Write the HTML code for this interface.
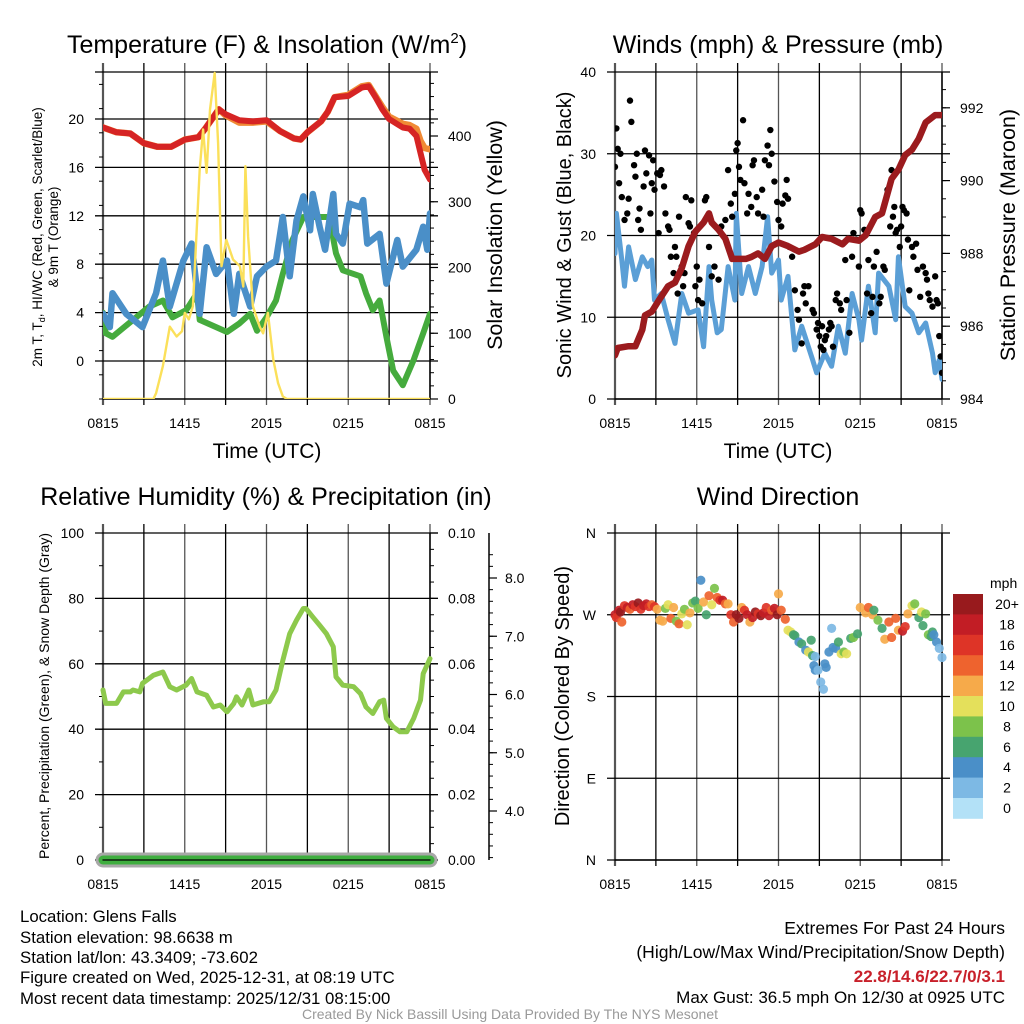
<!DOCTYPE html>
<html><head><meta charset="utf-8"><title>Glens Falls Meteogram</title>
<style>
html,body{margin:0;padding:0;background:#fff;}
svg{display:block;font-family:"Liberation Sans",Arial,sans-serif;}
</style></head>
<body>
<svg id="chart" width="1024" height="1024" viewBox="0 0 1024 1024" xmlns="http://www.w3.org/2000/svg">
<defs>
<clipPath id="clipTL"><rect x="103" y="71" width="327" height="328"/></clipPath>
<clipPath id="clipTR"><rect x="615" y="71" width="327" height="328"/></clipPath>
<clipPath id="clipBL"><rect x="90" y="533" width="355" height="340"/></clipPath>
<clipPath id="clipBR"><rect x="605" y="533" width="347" height="327"/></clipPath>
</defs>
<g id="root"></g>
</svg>
<script>
// ---------- DATA ----------
const timeTicks = ["0815","1415","2015","0215","0815"];
// Temperature panel
const tempHours = [0,1,2,3,4,5,6,7,7.5,8,8.5,9,10,11,12,13,14,14.5,15,16,16.5,17,18,19,19.5,20,20.5,21,22,22.5,23,23.3,23.6,24];
const temp2m   = [19.3,18.9,18.8,18.0,17.7,17.7,18.3,18.5,19.2,20.0,20.8,20.4,19.9,19.8,19.9,19.0,18.4,18.3,18.9,19.8,20.6,21.8,21.9,22.6,22.7,21.8,20.8,20.0,19.3,19.2,18.6,17.2,15.8,15.0];
const temp9m   = [19.3,18.9,18.8,18.0,17.7,17.7,18.3,18.5,19.2,20.0,20.8,20.3,19.7,19.7,19.8,19.0,18.4,18.3,18.9,19.8,20.6,21.8,22.0,22.7,22.8,21.9,21.0,20.2,19.6,19.5,19.2,18.2,17.6,17.5];
const wcHours = [0,0.5,0.7,1.7,2.9,3.9,4.4,4.9,5.9,6.5,7.1,7.6,8.3,9.1,9.6,10.0,10.8,11.3,12.0,12.7,13.2,13.7,14.2,14.7,15.2,15.4,15.9,16.3,16.9,17.1,17.6,18.1,18.9,19.1,19.4,20.3,20.8,21.6,22.0,23.0,23.5,23.8,24];
const windChill = [3.9,2.8,5.6,3.9,2.8,5.6,8.3,4.5,8.3,9.7,3.9,9.4,7.2,8.3,3.9,7.2,4.5,7.0,7.8,8.3,11.9,7.0,11.6,13.6,10.8,13.8,11.1,9.2,13.8,10.5,9.7,13.0,12.7,13.3,9.7,10.5,6.4,10.0,7.8,9.2,11.1,9.2,12.2];
const dewHours = [0,0.2,0.7,2.2,3.4,4.4,5.1,6.1,6.9,7.1,8.3,9.1,10.0,10.8,11.3,12.0,12.7,13.2,13.9,14.7,15.9,16.6,17.1,17.6,18.9,19.3,19.8,20.3,20.8,21.3,22.0,22.8,23.5,24];
const dewPoint = [4.0,2.3,2.0,3.4,4.5,5.0,3.6,4.2,5.6,3.4,2.8,2.4,3.1,3.9,2.5,3.6,5.0,7.2,10.0,11.9,11.9,11.9,8.9,7.5,7.0,5.6,4.2,5.0,2.0,-0.8,-2.0,0.1,2.3,3.9];
const solHours = [0,3.7,3.9,4.4,4.9,5.4,5.8,6.0,6.3,6.6,7.1,7.35,7.6,7.85,8.2,8.45,8.7,9.05,9.55,10.05,10.3,10.45,10.65,11.0,11.5,11.75,12.1,12.5,12.85,13.2,13.5,24];
const solar    = [0,0,9,50,110,95,103,131,121,141,349,410,344,440,496,389,202,242,212,202,171,354,247,141,110,100,131,60,24,4,0,0];
const tempTicks = [0,4,8,12,16,20];
const solarTicks = [0,100,200,300,400];
// Wind panel
const presHours = [0,0.2,1.0,1.5,2.0,2.2,2.7,3.2,3.9,4.4,4.9,5.4,5.9,6.5,6.9,7.1,7.6,8.1,8.6,9.1,9.6,10.0,10.5,11.0,11.5,12.0,12.7,13.5,13.9,14.7,15.2,15.9,16.7,17.1,17.9,18.4,19.1,19.6,20.3,20.8,21.3,21.8,22.3,22.8,23.5,24];
const pressure  = [985.2,985.4,985.45,985.45,985.9,986.3,986.4,986.7,987.1,987.2,987.6,988.2,988.6,988.85,989.1,988.85,988.65,988.4,987.85,987.85,987.85,987.9,988.0,987.85,988.2,988.3,988.2,988.05,988.1,988.25,988.45,988.4,988.25,988.4,988.35,988.5,989.0,989.1,990.05,990.3,990.7,990.85,991.15,991.6,991.8,991.8];
const windHours = [0,0.1,0.5,0.7,1.0,1.5,2.0,2.4,2.7,2.9,3.4,3.9,4.4,4.9,5.4,6.1,6.5,6.9,7.1,7.5,7.8,8.3,8.8,8.9,9.3,9.8,10.3,10.8,11.2,11.5,12.0,12.2,12.7,13.2,13.7,14.5,14.8,15.4,15.9,16.4,16.9,17.4,17.9,18.1,18.6,19.1,19.35,20.1,20.6,20.8,21.3,21.8,22.3,22.8,23.3,23.5,23.8,24];
const windSpeed = [17.8,22.7,17,13.8,18.6,14.6,17.4,16.2,17,12.1,12.9,9.7,6.8,12.9,10.5,10.9,6.4,16.2,12.1,8.1,8.5,16.2,12.1,22.7,12.9,16.2,12.9,16.2,22.3,15.4,17,12.1,15,6.0,8.9,4.8,3.2,5.6,4.0,8.9,5.6,12.9,9.7,7.2,13.8,8.1,15.4,13.8,9.7,17.4,11.3,10.5,8.1,9.3,5.6,3.2,4.8,2.4];
const gustHours = [0,0.1,0.2,0.3,0.4,0.5,0.7,0.9,1.0,1.1,1.2,1.4,1.5,1.6,1.7,1.8,1.9,2.1,2.2,2.3,2.5,2.6,2.7,2.8,2.9,3.1,3.2,3.3,3.4,3.6,3.7,3.9,4.0,4.1,4.3,4.4,4.5,4.6,4.7,4.8,4.9,5.0,5.1,5.2,5.4,5.5,5.6,5.8,5.9,6.0,6.1,6.2,6.4,6.6,6.7,6.9,7.1,7.3,7.6,7.8,8.1,8.3,8.5,8.6,8.8,8.9,9.0,9.1,9.2,9.4,9.5,9.7,9.8,10.0,10.1,10.2,10.4,10.5,10.8,10.9,11.0,11.2,11.3,11.4,11.5,11.7,11.9,12.0,12.2,12.3,12.5,12.6,12.7,12.8,13.0,13.2,13.4,13.5,13.7,13.8,13.9,14.0,14.2,14.5,14.6,14.8,14.9,15.0,15.1,15.2,15.3,15.4,15.5,15.7,15.8,15.9,16.0,16.2,16.3,16.5,16.6,16.9,17.0,17.2,17.4,17.5,17.7,17.9,18.0,18.1,18.3,18.5,18.6,18.8,18.9,19.0,19.2,19.4,19.5,19.7,19.8,20.0,20.2,20.3,20.4,20.5,20.6,20.7,20.9,21.0,21.1,21.2,21.4,21.5,21.6,21.8,21.9,22.1,22.2,22.4,22.6,22.8,22.9,23.0,23.1,23.3,23.5,23.6,23.7,23.8,23.9,24.0];
const gustSpeed = [28.4,33.1,30.6,26.4,30,24.7,21.9,22.7,24.5,36.5,33.9,28.6,27.2,30,21.9,23.3,20.7,26,30.4,27.6,29.8,22.7,26.4,29.2,25.6,27.6,20.3,27.4,28.0,26,22.7,21.1,20.7,17.4,15.4,18.6,17.4,12.9,22.3,15.4,16.2,13.8,15.4,24.7,21.5,21.1,24.3,20.3,13.8,16.2,12.1,14.6,11.7,24.3,24.7,18.6,15.0,16.2,14.6,21.1,21.9,28.0,23.9,22.3,25.1,30.4,31.3,28.4,26.8,34.1,26.4,22.7,25.1,23.5,28.6,29.2,24.7,22.7,25.6,22.3,29.2,31.0,28.6,32.9,30.0,26.6,24.1,21.9,21.1,23.9,24.9,26.8,24.5,18.6,17.4,13.3,10.9,9.7,6.8,12.9,13.8,11.7,13.8,10.9,10.5,8.5,9.3,7.7,6.4,8.9,6.0,7.2,7.7,8.5,9.3,8.9,6.4,12.1,12.9,11.7,10.9,17.0,12.1,8.1,17.4,20.3,19.5,16.2,23.1,22.7,20.7,12.9,17.0,10.5,12.5,16.2,18.0,11.7,12.5,16.2,15.8,25.6,21.1,28.0,22.3,23.5,20.3,20.7,18.6,21.1,23.5,23.1,22.7,19.5,13.3,18.6,17.4,19.0,15.8,12.5,16.2,15.4,14.6,12.9,12.1,11.3,15.0,12.1,11.7,7.7,5.2,3.2];
const windTicks = [0,10,20,30,40];
const presTicks = [984,986,988,990,992];
// RH panel
const rhHours = [0,0.2,0.5,1.0,1.5,2.0,2.2,2.7,2.9,3.7,4.4,4.9,5.4,6.1,6.5,6.9,7.6,8.1,8.6,9.1,9.6,9.8,10.2,10.7,11.0,11.8,12.2,12.7,13.2,13.7,14.2,14.7,14.9,15.4,15.9,16.4,16.9,17.1,17.6,18.4,18.9,19.3,19.8,20.3,20.6,20.8,21.3,21.8,22.3,22.8,23.3,23.5,24];
const relHum  = [52,47.9,47.9,47.9,51.4,51.4,52,51.4,54,56.5,57.5,53,52,53.5,55.5,51.4,50.4,46.8,47.4,45.3,47.9,49.9,47.4,52,47.4,48.4,48.4,52,61,69.2,73.3,76.9,76.9,74.3,71.8,69.2,65.2,56,53.5,53,50.9,46.8,44.8,48.4,48.9,43.3,40.7,39.2,39.2,43.3,48.9,57,61.6];
const rhTicks = [0,20,40,60,80,100];
const precipTicks = ["0.00","0.02","0.04","0.06","0.08","0.10"];
const snowTicks = [4,5,6,7,8];
// Wind direction panel
const dirHours = [0,0.1,0.3,0.4,0.5,0.7,0.9,1.1,1.3,1.5,1.7,1.9,2.1,2.3,2.5,2.7,2.9,3.1,3.3,3.5,3.7,3.9,4.1,4.3,4.5,4.7,4.9,5.1,5.3,5.5,5.7,5.9,6.1,6.3,6.5,6.7,6.9,7.1,7.3,7.5,7.7,7.9,8.1,8.3,8.5,8.7,8.9,9.1,9.3,9.5,9.7,9.9,10.1,10.3,10.5,10.7,10.9,11.1,11.3,11.5,11.7,11.9,12.0,12.2,12.5,12.7,12.9,13.1,13.2,13.5,13.7,14.0,14.2,14.4,14.5,14.7,14.6,14.7,14.9,15.1,15.3,15.4,15.5,15.7,15.9,16.0,16.2,16.4,16.6,16.8,17.0,17.3,17.5,17.8,18.0,18.4,18.6,18.9,19.0,19.3,19.6,19.8,20.1,20.3,20.6,20.8,21.1,21.3,21.5,21.8,22.0,22.3,22.5,22.6,22.8,23.0,23.2,23.3,23.4,23.6,23.8,24];
const dirDeg = [270,267,275,273,262,280,278,276,281,279,283,276,280,282,279,281,279,276,264,263,277,281,266,278,263,260,271,276,259,272,283,285,277,308,284,270,291,281,299,289,286,286,282,282,270,262,270,266,278,275,270,262,267,273,271,269,272,278,269,275,277,270,293,275,265,253,251,248,247,240,238,231,229,242,225,224,214,209,209,196,188,216,212,229,255,234,233,240,227,229,227,244,245,249,278,272,278,270,275,264,255,243,262,245,266,253,252,257,271,280,282,267,273,258,271,248,246,251,248,240,233,223,216,209];
const dirSpeed = [19,17,18,20,14,16,19,15,18,17,20,16,19,18,17,14,16,12,13,13,8,10,14,12,9,14,11,8,10,13,8,7,9,5,12,6,15,10,8,15,16,18,14,12,16,15,20,21,13,16,19,12,18,21,17,20,19,16,18,15,19,20,13,14,15,10,11,6,7,4,7,5,10,7,6,3,4,4,3,3,3,4,4,5,2,4,5,6,10,9,10,7,8,7,12,13,14,12,7,9,6,13,14,15,14,13,19,17,12,10,8,7,10,7,9,8,6,7,4,4,3,2,2];
const legendLabels = ["20+","18","16","14","12","10","8","6","4","2","0"];

// ---------- HELPERS ----------
const NS = "http://www.w3.org/2000/svg";
const root = document.getElementById("root");
function mk(tag, attrs, parent){
  const e = document.createElementNS(NS, tag);
  for (const k in attrs) e.setAttribute(k, attrs[k]);
  (parent || root).appendChild(e);
  return e;
}
function txt(str, attrs, parent){ const e = mk("text", attrs, parent); e.textContent = str; return e; }
const PW = 327;
function xScale(x0){ return h => x0 + h / 24 * PW; }
function pathFrom(xs, ys){ return xs.map((x,i)=>(i?"L":"M")+x.toFixed(1)+","+ys[i].toFixed(1)).join(""); }
function speedColor(s){
  const c = ["#b3e1f7","#7db9e4","#4a8fc8","#47a46f","#7cc24b","#e4e05b","#f6aa4a","#ee632e","#de3427","#c21d25","#981a1d"];
  let i = Math.floor(s/2); if (i > 10) i = 10; if (i < 0) i = 0;
  return c[i];
}

function grid(x0, yTop, yBot, hLines, name){
  const g = mk("g", {});
  
  
  for (let k = 0; k <= 8; k++){
    const x = x0 + k * PW / 8;
    const l = mk("line", {x1:x, x2:x, y1:yTop-9, y2:yBot+6, stroke: (k%2? "#000":"#555"), "stroke-width": (k===0? 2.2 : 1.3)}, g);
    
    
  }
  hLines.forEach(y => {
    const l = mk("line", {x1:x0-8, x2:x0+PW+8, y1:y, y2:y, stroke:"#000", "stroke-width":1.3}, g);
    
    
  });
  const b = mk("line", {x1:x0, x2:x0+PW, y1:yBot, y2:yBot, stroke:"#000", "stroke-width":1.5}, g);
  
  
  const r = mk("line", {x1:x0+PW, x2:x0+PW, y1:yTop, y2:yBot, stroke:"#000", "stroke-width":1.5}, g);
  
  
  timeTicks.forEach((t,i) => {
    const tl = txt(t, {x: x0 + i*PW/4, y: yBot + 29, "font-size":14, "text-anchor":"middle"}, g);
    
    
  });
}
function minorTicks(x, yTop, yBot, step, dir, name){
  for (let y = yBot; y >= yTop - 0.5; y -= step){
    const l = mk("line", {x1:x, x2:x + dir*4, y1:y, y2:y, stroke:"#000", "stroke-width":1});
    
    
  }
}

// ---------- TOP LEFT: TEMPERATURE ----------
(function(){
  const X = xScale(103);
  const yT = v => 361 - v * 12.1;
  const yI = v => 399 - v * 0.6575;
  grid(103, 72, 399, tempTicks.map(yT).concat([72]), "temperature");
  minorTicks(103, 72, 399, 24.2, -1, "temp-minor-tick");
  minorTicks(430, 72, 399, 13.15, 1, "solar-minor-tick");
  tempTicks.forEach(v => {
    const t = txt(String(v), {x:84, y:yT(v)+5, "font-size":14, "text-anchor":"end"});
    
    
  });
  solarTicks.forEach(v => {
    const t = txt(String(v), {x:448, y:yI(v)+5, "font-size":14});
    
    
    const tk = mk("line", {x1:430, x2:438, y1:yI(v), y2:yI(v), stroke:"#000", "stroke-width":1.2});
    
    
  });
  const g = mk("g", {"clip-path":"url(#clipTL)", fill:"none", "stroke-linejoin":"round", "stroke-linecap":"round"});
  
  
  let p;
  p = mk("path", {d:pathFrom(dewHours.map(X), dewPoint.map(yT)), stroke:"#45ab3d", "stroke-width":6}, g);
  
  
  p = mk("path", {d:pathFrom(wcHours.map(X), windChill.map(yT)), stroke:"#4a8fc8", "stroke-width":6.5}, g);
  
  
  p = mk("path", {d:pathFrom(tempHours.map(X), temp9m.map(yT)), stroke:"#f08a35", "stroke-width":6.5}, g);
  
  
  p = mk("path", {d:pathFrom(tempHours.map(X), temp2m.map(yT)), stroke:"#d62424", "stroke-width":6}, g);
  
  
  p = mk("path", {d:pathFrom(solHours.map(X), solar.map(yI)), stroke:"#fbe05a", "stroke-width":2.4}, g);
  
  
})();

// ---------- TOP RIGHT: WINDS ----------
(function(){
  const X = xScale(615);
  const yW = v => 399 - v * 8.175;
  const yP = p => 399 - (p - 984) * 36.4;
  grid(615, 72, 399, windTicks.map(yW), "winds");
  minorTicks(942, 72, 399, 18.2, 1, "pressure-minor-tick");
  windTicks.forEach(v => {
    const t = txt(String(v), {x:596, y:yW(v)+5, "font-size":14, "text-anchor":"end"});
    
    
  });
  presTicks.forEach(v => {
    const t = txt(String(v), {x:960, y:yP(v)+5, "font-size":14});
    
    
    const tk = mk("line", {x1:942, x2:950, y1:yP(v), y2:yP(v), stroke:"#000", "stroke-width":1.2});
    
    
  });
  const g = mk("g", {"clip-path":"url(#clipTR)", fill:"none", "stroke-linejoin":"round", "stroke-linecap":"round"});
  
  
  let p = mk("path", {d:pathFrom(windHours.map(X), windSpeed.map(yW)), stroke:"#5b9fd6", "stroke-width":5}, g);
  
  
  gustHours.forEach((h,i) => {
    const c = mk("circle", {cx:X(h), cy:yW(gustSpeed[i]), r:3.2, fill:"#000"}, g);
    
    
  });
  p = mk("path", {d:pathFrom(presHours.map(X), pressure.map(yP)), stroke:"#9b1b1e", "stroke-width":6.5}, g);
  
  
})();

// ---------- BOTTOM LEFT: RH ----------
(function(){
  const X = xScale(103);
  const yR = v => 860 - v * 3.27;
  const yS = s => 811 - (s - 4) * 58.25;
  grid(103, 533, 860, rhTicks.map(yR), "humidity");
  minorTicks(103, 533, 860, 32.7, -1, "rh-minor-tick");
  minorTicks(430, 533, 860, 16.35, 1, "precip-minor-tick");
  rhTicks.forEach(v => {
    const t = txt(String(v), {x:84, y:yR(v)+5, "font-size":14, "text-anchor":"end"});
    
    
  });
  precipTicks.forEach((v,i) => {
    const y = 860 - i * 65.4;
    const t = txt(v, {x:448, y:y+5, "font-size":14});
    
    
    const tk = mk("line", {x1:430, x2:438, y1:y, y2:y, stroke:"#000", "stroke-width":1.2});
    
    
  });
  const ax = mk("line", {x1:489, x2:489, y1:533, y2:860, stroke:"#000", "stroke-width":1.5});
  
  
  for (let s = 3.2; s <= 8.6; s += 0.2){
    const y = yS(s); if (y < 533 || y > 860) continue;
    const tk = mk("line", {x1:489, x2:493, y1:y, y2:y, stroke:"#000", "stroke-width":1});
    
    
  }
  snowTicks.forEach(v => {
    const tk = mk("line", {x1:489, x2:497, y1:yS(v), y2:yS(v), stroke:"#000", "stroke-width":1.2});
    
    
    const t = txt(v.toFixed(1), {x:505, y:yS(v)+5, "font-size":14});
    
    
  });
  const g = mk("g", {"clip-path":"url(#clipBL)", fill:"none", "stroke-linejoin":"round", "stroke-linecap":"round"});
  
  
  let p = mk("path", {d:"M"+X(0)+",860L"+X(24)+",860", stroke:"#a8a8a8", "stroke-width":15}, g);
  
  
  p = mk("path", {d:"M"+X(0)+",860L"+X(24)+",860", stroke:"#3fae3f", "stroke-width":9}, g);
  
  
  p = mk("line", {x1:103, x2:430, y1:860, y2:860, stroke:"#000", "stroke-width":1.3}, g);
  
  
  p = mk("path", {d:pathFrom(rhHours.map(X), relHum.map(yR)), stroke:"#8dc94c", "stroke-width":5}, g);
  
  
})();

// ---------- BOTTOM RIGHT: DIRECTION ----------
(function(){
  const X = xScale(615);
  const yD = d => 860 - d * 327 / 360;
  const dirTicks = [0,90,180,270,360], dirLabels = ["N","E","S","W","N"];
  grid(615, 533, 860, dirTicks.map(yD), "direction");
  dirTicks.forEach((d,i) => {
    const t = txt(dirLabels[i], {x:596, y:yD(d)+5, "font-size":14, "text-anchor":"end"});
    
    
  });
  const g = mk("g", {"clip-path":"url(#clipBR)"});
  
  
  dirHours.forEach((h,i) => {
    const c = mk("circle", {cx:X(h), cy:yD(dirDeg[i]), r:4.6, fill:speedColor(dirSpeed[i]), "fill-opacity":0.92}, g);
    
    
  });
  // legend
  const lg = mk("g", {});
  
  
  const t0 = txt("mph", {x:990, y:588, "font-size":14}, lg);
  
  
  legendLabels.forEach((lab,i) => {
    const y = 594 + i * 20.4;
    const r = mk("rect", {x:953, y:y, width:30, height:20.8, fill:speedColor(20 - i*2)}, lg);
    
    
    const t = txt(lab, {x:1007, y:y+15, "font-size":14, "text-anchor":"middle"}, lg);
    
    
  });
})();

// ---------- TITLES & LABELS ----------
let e;
e = txt("", {x:267, y:53, "font-size":25, "text-anchor":"middle"});
e.innerHTML = 'Temperature (F) &amp; Insolation (W/m<tspan dy="-10" font-size="15">2</tspan><tspan dy="10">)</tspan>';


e = txt("Winds (mph) & Pressure (mb)", {x:778, y:53, "font-size":25, "text-anchor":"middle"});


e = txt("Relative Humidity (%) & Precipitation (in)", {x:266, y:505, "font-size":25, "text-anchor":"middle"});


e = txt("Wind Direction", {x:778, y:505, "font-size":25, "text-anchor":"middle"});


e = txt("Time (UTC)", {x:267, y:458, "font-size":21, "text-anchor":"middle"});


e = txt("Time (UTC)", {x:778, y:458, "font-size":21, "text-anchor":"middle"});


e = txt("", {x:0, y:0, "font-size":13.5, "text-anchor":"middle", transform:"translate(42,237) rotate(-90)"});
e.innerHTML = '2m T, T<tspan dy="3" font-size="9">d</tspan><tspan dy="-3">, HI/WC (Red, Green, Scarlet/Blue)</tspan>';


e = txt("& 9m T (Orange)", {x:0, y:0, "font-size":13.5, "text-anchor":"middle", transform:"translate(58,237) rotate(-90)"});


e = txt("Solar Insolation (Yellow)", {x:0, y:0, "font-size":21.5, "text-anchor":"middle", transform:"translate(502,235) rotate(-90)"});


e = txt("Sonic Wind & Gust (Blue, Black)", {x:0, y:0, "font-size":20, "text-anchor":"middle", transform:"translate(571,235) rotate(-90)"});


e = txt("Station Pressure (Maroon)", {x:0, y:0, "font-size":21.5, "text-anchor":"middle", transform:"translate(1015,235) rotate(-90)"});


e = txt("Percent, Precipitation (Green), & Snow Depth (Gray)", {x:0, y:0, "font-size":14, "text-anchor":"middle", transform:"translate(49,696) rotate(-90)"});


e = txt("Direction (Colored By Speed)", {x:0, y:0, "font-size":20, "text-anchor":"middle", transform:"translate(569,696) rotate(-90)"});



// ---------- FOOTER ----------
const leftLines = ["Location: Glens Falls","Station elevation: 98.6638 m","Station lat/lon: 43.3409; -73.602","Figure created on Wed, 2025-12-31, at 08:19 UTC","Most recent data timestamp: 2025/12/31 08:15:00"];
const leftY = [922,943,963,983,1004];
leftLines.forEach((s,i) => {
  const t = txt(s, {x:20, y:leftY[i], "font-size":16.8});
  
  
});
e = txt("Extremes For Past 24 Hours", {x:1005, y:934, "font-size":17.5, "text-anchor":"end"});


e = txt("(High/Low/Max Wind/Precipitation/Snow Depth)", {x:1005, y:958, "font-size":17.5, "text-anchor":"end"});


e = txt("22.8/14.6/22.7/0/3.1", {x:1005, y:982, "font-size":17, "font-weight":"bold", fill:"#c8202a", "text-anchor":"end"});


e = txt("Max Gust: 36.5 mph On 12/30 at 0925 UTC", {x:1005, y:1003, "font-size":17, "text-anchor":"end"});


e = txt("Created By Nick Bassill Using Data Provided By The NYS Mesonet", {x:510, y:1019, "font-size":14, fill:"#999", "text-anchor":"middle"});


</script>
</body></html>
